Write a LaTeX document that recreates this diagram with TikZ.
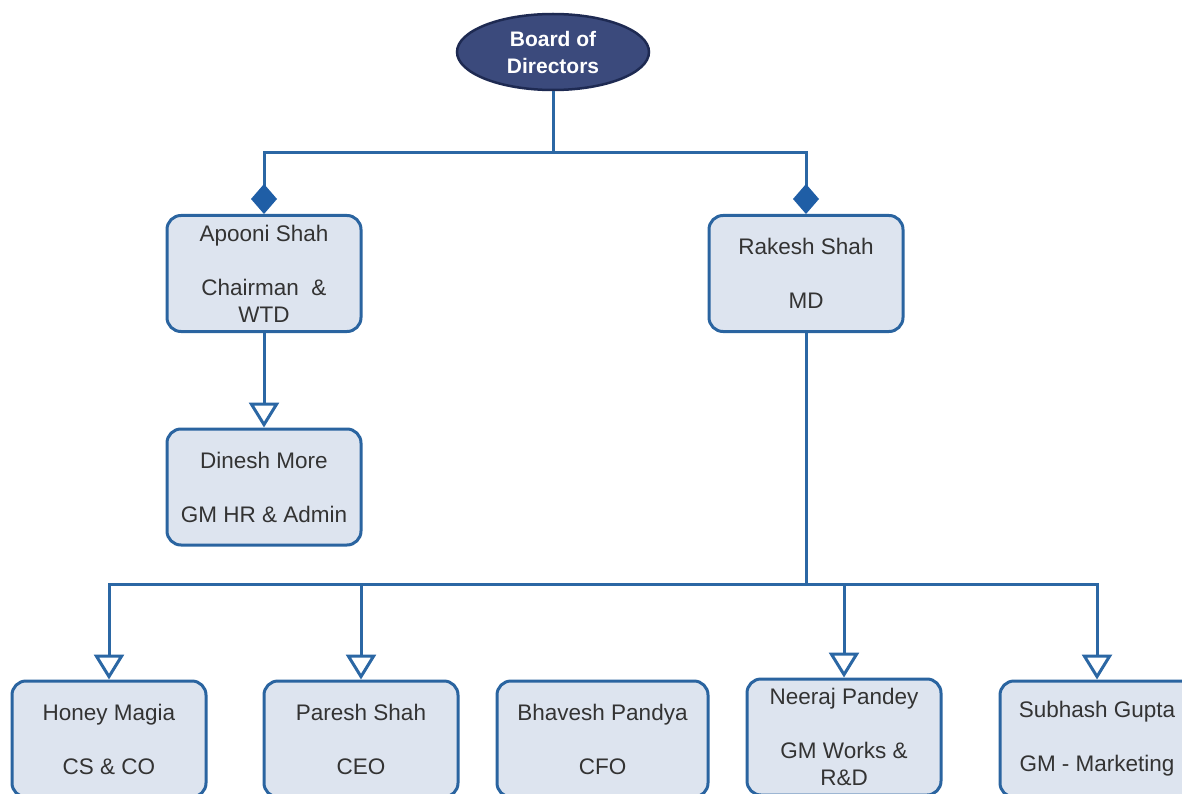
\documentclass[tikz,border=0pt]{standalone}
\usepackage{fontspec}
\setmainfont{Liberation Sans}
\usetikzlibrary{arrows.meta,shapes.geometric}
\definecolor{linec}{HTML}{2B67A4}
\definecolor{boxfill}{HTML}{DDE4EF}
\definecolor{boxline}{HTML}{2A64A0}
\definecolor{navy}{HTML}{3B4A7C}
\definecolor{navyline}{HTML}{1E2A52}
\definecolor{txt}{HTML}{333333}
\definecolor{diam}{HTML}{1F5EA6}
\tikzset{
  x=1pt,y=-1pt,
  person/.style={draw=boxline, line width=3pt, fill=boxfill, rounded corners=14pt,
    minimum width=194pt, minimum height=116pt, inner sep=0pt, align=center,
    text=txt, font=\fontsize{22.5}{27}\selectfont},
  conn/.style={draw=linec, line width=3pt},
  diamarrow/.style={conn, -{Diamond[width=26pt,length=30pt,fill=diam,line width=0pt]}},
  openarrow/.style={conn, -{Triangle[width=30pt,length=25pt,fill=white,line width=3pt]}},
}
\begin{document}
\begin{tikzpicture}
\useasboundingbox (0,0) rectangle (1182,794);
\node[ellipse, draw=navyline, line width=2.5pt, fill=navy, minimum width=192pt, minimum height=76pt,
  inner sep=0pt, align=center, text=white, font=\fontsize{21}{27}\selectfont\bfseries] (bod) at (553,52) {Board of\\Directors};
\node[person] (apooni) at (264,273.5) {Apooni Shah\\[27pt]Chairman \ \&\\WTD};
\node[person] (rakesh) at (806,273.5) {Rakesh Shah\\[27pt]MD};
\node[person] (dinesh) at (264,487) {Dinesh More\\[27pt]GM HR \& Admin};
\node[person] (honey) at (109,739) {Honey Magia\\[27pt]CS \& CO};
\node[person] (paresh) at (361,739) {Paresh Shah\\[27pt]CEO};
\node[person, minimum width=211pt] (bhavesh) at (602.5,739) {Bhavesh Pandya\\[27pt]CFO};
\node[person] (neeraj) at (844,737) {Neeraj Pandey\\[27pt]GM Works \&\\R\&D};
\node[person] (subhash) at (1097,739) {Subhash Gupta\\[27pt]GM - Marketing};
\coordinate (top) at (553,153);
\coordinate (hub) at (806,584);
\draw[conn] (bod.south) -- (top);
\draw[diamarrow] (top) -| (apooni.north);
\draw[diamarrow] (top) -| (rakesh.north);
\draw[openarrow] (apooni.south) -- (dinesh.north);
\draw[conn] (rakesh.south) -- (hub);
\draw[openarrow] (hub) -| (honey.north);
\draw[openarrow] (hub) -| (paresh.north);
\draw[openarrow] (hub) -| (neeraj.north);
\draw[openarrow] (hub) -| (subhash.north);
\end{tikzpicture}
\end{document}
